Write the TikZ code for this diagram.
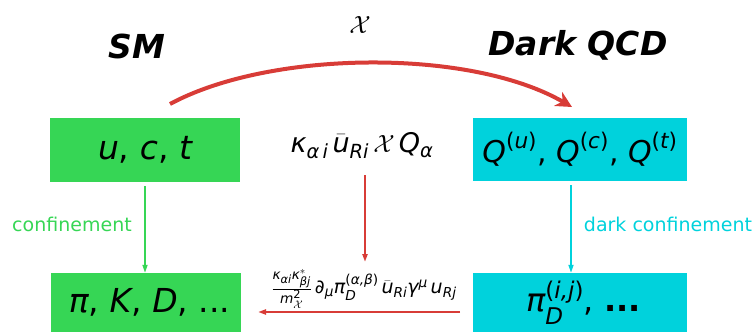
\documentclass[tikz,border=0pt]{standalone}
\usepackage{amsmath}
\usepackage{fontspec}
\setmainfont{DejaVu Sans}
\usetikzlibrary{arrows.meta}
\def\defaultscriptratio{.72}
\def\defaultscriptscriptratio{.6}
\definecolor{smgreen}{HTML}{36D655}
\definecolor{dcyan}{HTML}{00D2DC}
\definecolor{ared}{HTML}{D83C37}
\newcommand\vi[1]{\text{\itshape #1}}
\newcommand\vu[1]{\text{#1}}
\begin{document}
\begin{tikzpicture}[x=1pt,y=-1pt,
  gbox/.style={fill=smgreen,inner sep=0pt,font=\fontsize{33}{38}\selectfont},
  cbox/.style={fill=dcyan,inner sep=0pt,font=\fontsize{30}{34}\selectfont},
  head/.style={font=\fontsize{33}{38}\selectfont\bfseries\itshape},
  arr/.style={-{Triangle[length=8pt,width=5pt]},line width=1.6pt},
  lab/.style={font=\fontsize{19}{22}\selectfont}]
\useasboundingbox (0,0) rectangle (755,332);
\node[gbox,minimum width=190pt,minimum height=64pt] (sm) at (145,150) {$\vi{u}\vu{, }\vi{c}\vu{, }\vi{t}$};
\node[cbox,minimum width=214pt,minimum height=63pt] (dq) at (580,149.5) {$\vi{Q}^{\vu{(}\vi{u}\vu{)}}\vu{, }\vi{Q}^{\vu{(}\vi{c}\vu{)}}\vu{, }\vi{Q}^{\vu{(}\vi{t}\vu{)}}$};
\node[gbox,minimum width=190pt,minimum height=59pt] (had) at (146,302.5) {$\;\vi{π}\vu{, }\vi{K}\vu{, }\vi{D}\vu{, }\vu{...}$};
\node[cbox,minimum width=214pt,minimum height=59pt,font=\fontsize{32}{36}\selectfont] (dh) at (580,302.5) {$\;\vi{π}_{\vi{D}}^{\vu{(}\vi{i,j}\vu{)}}\vu{, \textbf{...}}$};
\node[head] (smt) at (137,46) {SM};
\node[head] (dqt) at (578,45) {Dark QCD};
\node[font=\fontsize{28}{32}\selectfont] (X) at (360,25) {$\mathcal{X}$};
\node[font=\fontsize{27}{31}\selectfont] (int1) at (362,146) {$\vi{κ}_{\vi{α\,i}}\,\bar{\vi{u}}_{\vi{Ri}}\,\mathcal{X}\,\vi{Q}_{\vi{α}}$};
\node[font=\fontsize{19}{22}\selectfont] (int2) at (364,289) {$\frac{\vi{κ}_{\vi{αi}}\vi{κ}^{*}_{\vi{βj}}}{\vi{m}^{\vu{2}}_{\mathcal{X}}}\,\vu{∂}_{\vi{μ}}\vi{π}_{\vi{D}}^{\vu{(}\vi{α,β}\vu{)}}\,\bar{\vi{u}}_{\vi{Ri}}\vi{γ}^{\vi{μ}}\,\vi{u}_{\vi{Rj}}$};
\coordinate (a1) at (170,104);
\coordinate (a2) at (572,107);
\draw[ared,line width=4pt,-{Stealth[length=16pt,width=16pt,inset=5pt]}] (a1) .. controls (270,50) and (470,48) .. (a2);
\coordinate (r1) at (365,175);
\coordinate (r2) at (365,262);
\draw[arr,ared,line width=2pt] (r1) -- (r2);
\coordinate (b1) at (460,312);
\coordinate (b2) at (258,312);
\draw[arr,ared,line width=2.5pt] (b1) -- (b2);
\draw[arr,smgreen] ([yshift=-4pt]sm.south) -- (had.north -| sm.south);
\draw[arr,dcyan] ([yshift=-4pt]dq.south -| 571,0) -- (dh.north -| 571,0);
\node[lab,text=smgreen] (cf) at (72,224) {confinement};
\node[lab,text=dcyan] (dcf) at (668,224) {dark confinement};
\end{tikzpicture}
\end{document}
